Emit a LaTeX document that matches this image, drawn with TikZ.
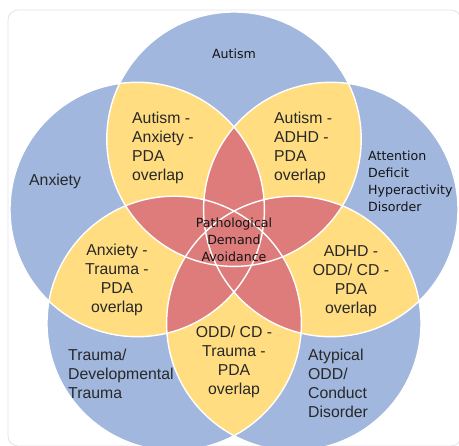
\documentclass[tikz,border=0pt]{standalone}
\usepackage{fontspec}
\setmainfont{Liberation Sans}
\newfontfamily\dvfont{DejaVu Sans}
\definecolor{cblue}{RGB}{161,183,222}
\definecolor{cyel}{RGB}{255,221,128}
\definecolor{cred}{RGB}{222,124,124}
\definecolor{ctext}{RGB}{40,40,40}
\definecolor{cdark}{RGB}{20,20,20}
\definecolor{cframe}{RGB}{222,228,236}
\tikzset{
  arial/.style={inner sep=0pt, text=ctext, font=\fontsize{15.8}{19}\selectfont},
  dvlabel/.style={inner sep=0pt, text=cdark, font=\dvfont\fontsize{12.6}{16.8}\selectfont},
  ring/.style={draw=white, line width=1.4pt},
}
\def\R{127.2pt}
\begin{document}
\begin{tikzpicture}[x=1pt,y=-1pt]
\useasboundingbox (0,0) rectangle (459,446);
\draw[cframe, line width=0.8pt, rounded corners=10pt] (8,10) rectangle (461,446);
\coordinate (cA) at (234,139.2);
\coordinate (cB) at (137.2,209.5);
\coordinate (cC) at (330.8,209.5);
\coordinate (cD) at (174.2,323.4);
\coordinate (cE) at (293.8,323.4);
\foreach \p in {A,B,C,D,E} { \fill[cblue] (c\p) circle[radius=\R]; }
\foreach \p/\q in {A/B,A/C,A/D,A/E,B/C,B/D,B/E,C/D,C/E,D/E} {
  \begin{scope}
    \clip (c\p) circle[radius=\R];
    \fill[cyel] (c\q) circle[radius=\R];
  \end{scope}
}
\foreach \p/\q/\s in {A/B/C,A/B/D,A/B/E,A/C/D,A/C/E,A/D/E,B/C/D,B/C/E,B/D/E,C/D/E} {
  \begin{scope}
    \clip (c\p) circle[radius=\R];
    \clip (c\q) circle[radius=\R];
    \fill[cred] (c\s) circle[radius=\R];
  \end{scope}
}
\foreach \p in {A,B,C,D,E} { \draw[ring] (c\p) circle[radius=\R]; }
% labels
\node[dvlabel] (autism) at (234,54) {Autism};
\node[arial, anchor=west] (anxiety) at (29,181) {Anxiety};
\node[dvlabel, align=left, anchor=west] (adhd) at (368,181.5) {Attention\\Deficit\\Hyperactivity\\Disorder};
\node[arial, align=left, anchor=west] (trauma) at (68,373.7) {Trauma/\\Developmental\\Trauma};
\node[arial, align=left, anchor=west] (odd) at (308,383.5) {Atypical\\ODD/\\Conduct\\Disorder};
\node[arial, align=left, anchor=west] (autanx) at (132,147.5) {Autism -\\Anxiety -\\PDA\\overlap};
\node[arial, align=left, anchor=west] (autadhd) at (274,147.5) {Autism -\\ADHD -\\PDA\\overlap};
\node[arial, align=center] (anxtra) at (117,279.5) {Anxiety -\\Trauma -\\PDA\\overlap};
\node[arial, align=center] (adhdodd) at (351,281) {ADHD -\\ODD/ CD -\\PDA\\overlap};
\node[arial, align=center] (oddtra) at (234,362) {ODD/ CD -\\Trauma -\\PDA\\overlap};
\node[dvlabel, align=center] (pda) at (234,240) {Pathological\\Demand\\Avoidance};
\end{tikzpicture}
\end{document}
